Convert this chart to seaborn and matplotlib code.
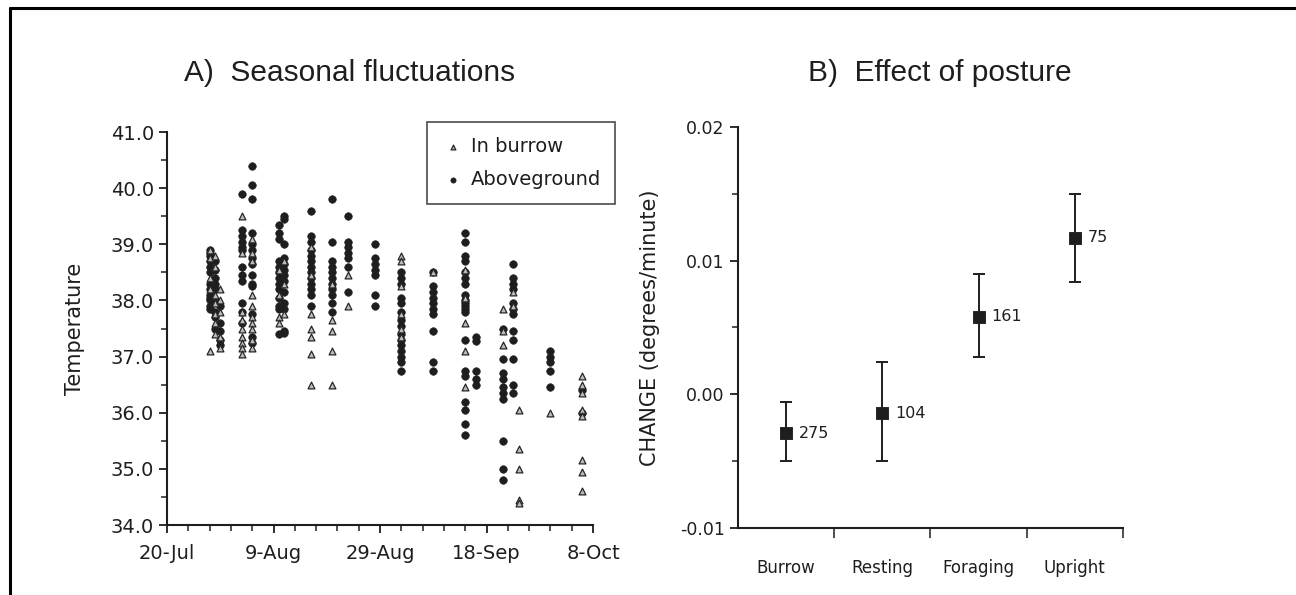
import matplotlib
matplotlib.use("Agg")
import matplotlib.pyplot as plt
import pandas as pd
import seaborn as sns
from matplotlib.lines import Line2D
from matplotlib.ticker import FixedLocator, FuncFormatter, MultipleLocator, NullFormatter
import matplotlib.dates as mdates

# -- Panel A: body temperature by date (one list of readings per sampling date)
above_dates = [
    "1998-07-28", "1998-07-29", "1998-07-30", "1998-08-03", "1998-08-05",
    "1998-08-10", "1998-08-11", "1998-08-16", "1998-08-20", "1998-08-23",
    "1998-08-28", "1998-09-02", "1998-09-08", "1998-09-14", "1998-09-16",
    "1998-09-21", "1998-09-23", "1998-09-30", "1998-10-06",
]
above_temps = [
    [38.9, 38.85, 38.8, 38.7, 38.6, 38.5, 38.3, 38.2, 38.1, 38.05, 38.0, 37.9, 37.85],
    [38.7, 38.55, 38.4, 38.3, 38.2, 38.0, 37.8, 37.7, 37.5],
    [37.9, 37.6, 37.45, 37.3, 37.2],
    [39.9, 39.25, 39.15, 39.05, 38.95, 38.9, 38.6, 38.45, 38.35, 37.95, 37.8, 37.6],
    [40.4, 40.05, 39.8, 39.2, 39.0, 38.9, 38.75, 38.65, 38.45, 38.3, 38.25, 37.75, 37.35, 37.25],
    [39.35, 39.2, 39.1, 38.7, 38.6, 38.5, 38.4, 38.3, 38.2, 38.05, 37.9, 37.85, 37.4],
    [39.5, 39.45, 39.0, 38.75, 38.65, 38.55, 38.45, 38.35, 38.15, 37.95, 37.85, 37.45, 37.42],
    [39.6, 39.15, 39.05, 38.9, 38.8, 38.7, 38.6, 38.5, 38.4, 38.3, 38.2, 38.1, 37.9],
    [39.8, 39.05, 38.7, 38.6, 38.5, 38.4, 38.3, 38.2, 38.1, 37.95, 37.8],
    [39.5, 39.05, 38.95, 38.85, 38.75, 38.6, 38.15],
    [39.0, 38.75, 38.65, 38.55, 38.45, 38.1, 37.9],
    [38.5, 38.4, 38.3, 38.05, 37.95, 37.8, 37.65, 37.55, 37.4, 37.3, 37.2, 37.1, 37.0, 36.9, 36.75],
    [38.5, 38.25, 38.15, 38.05, 37.95, 37.85, 37.75, 37.45, 36.9, 36.75],
    [39.2, 39.05, 38.8, 38.7, 38.5, 38.4, 38.3, 38.1, 38.0, 37.95, 37.9, 37.85, 37.8,
     37.3, 36.75, 36.65, 36.2, 36.05, 35.8, 35.6],
    [37.35, 37.28, 36.75, 36.6, 36.5],
    [37.5, 36.95, 36.7, 36.6, 36.45, 36.35, 36.25, 35.5, 35.0, 34.8],
    [38.65, 38.4, 38.3, 38.2, 37.95, 37.85, 37.75, 37.45, 37.3, 36.95, 36.5, 36.35],
    [37.1, 37.0, 36.9, 36.75, 36.45],
    [36.4, 36.0],
]

burrow_dates = [
    "1998-07-28", "1998-07-29", "1998-07-30", "1998-08-03", "1998-08-05",
    "1998-08-10", "1998-08-11", "1998-08-16", "1998-08-20", "1998-08-23",
    "1998-09-02", "1998-09-08", "1998-09-14", "1998-09-21", "1998-09-23",
    "1998-09-24", "1998-09-30", "1998-10-06",
]
burrow_temps = [
    [38.9, 38.75, 38.4, 38.2, 37.1],
    [38.8, 38.6, 38.1, 37.95, 37.75, 37.6, 37.4],
    [38.2, 38.0, 37.8, 37.35, 37.15],
    [39.5, 38.85, 37.8, 37.65, 37.5, 37.35, 37.25, 37.15, 37.05],
    [39.1, 38.85, 38.7, 38.1, 37.9, 37.7, 37.6, 37.5, 37.3, 37.15],
    [38.55, 38.1, 37.7, 37.6],
    [38.7, 38.3, 37.75],
    [38.95, 38.45, 37.75, 37.5, 37.35, 37.05, 36.5],
    [38.3, 37.65, 37.45, 37.1, 36.5],
    [38.45, 37.9],
    [38.8, 38.7, 38.25, 37.75, 37.5, 37.35],
    [38.5],
    [38.55, 38.05, 37.6, 37.1, 36.45],
    [37.85, 37.45, 37.2],
    [38.15, 37.9],
    [36.05, 35.35, 35.0, 34.45, 34.4],
    [36.0],
    [36.65, 36.5, 36.35, 36.05, 35.95, 35.15, 34.95, 34.6],
]

date_ticks = ["1998-07-20", "1998-08-09", "1998-08-29", "1998-09-18", "1998-10-08"]

# -- Panel B: rate of temperature change by posture
postures = ["Burrow", "Resting", "Foraging", "Upright"]
change_mean = [-0.0029, -0.0014, 0.0058, 0.0117]
change_low = [-0.0050, -0.0050, 0.0028, 0.0084]
change_high = [-0.0006, 0.0024, 0.0090, 0.0150]
sample_n = [275, 104, 161, 75]


def long_frame(dates, temps, where):
    rows = [(pd.Timestamp(d), t, where) for d, ts in zip(dates, temps) for t in ts]
    return pd.DataFrame(rows, columns=["date", "temp", "where"])


above_df = long_frame(above_dates, above_temps, "Aboveground")
burrow_df = long_frame(burrow_dates, burrow_temps, "In burrow")

sns.set_theme(style="ticks")
ink = "#1e1e1e"
plt.rcParams["font.family"] = ["DejaVu Sans"]
plt.rcParams["axes.unicode_minus"] = False
plt.rcParams["axes.edgecolor"] = ink
plt.rcParams["xtick.color"] = ink
plt.rcParams["ytick.color"] = ink
plt.rcParams["text.color"] = ink
plt.rcParams["axes.labelcolor"] = ink

fig = plt.figure(figsize=(12.96, 5.95), dpi=100)
title_font = ["Liberation Sans", "DejaVu Sans"]

# ---------------- Panel A
ax1 = fig.add_axes([0.1289, 0.1176, 0.3287, 0.6605])
sns.scatterplot(data=above_df, x="date", y="temp", marker="o", s=30,
                color=ink, edgecolor=ink, linewidth=0.4, ax=ax1,
                label="Aboveground", zorder=2)
sns.scatterplot(data=burrow_df, x="date", y="temp", marker="^", s=24,
                color="#bdbdbd", edgecolor="#262626", linewidth=0.9, ax=ax1,
                label="In burrow", zorder=3)

ax1.set_xlim(pd.Timestamp(date_ticks[0]), pd.Timestamp(date_ticks[-1]))
ax1.set_ylim(34.0, 41.0)
ax1.xaxis.set_major_locator(FixedLocator(mdates.date2num(pd.to_datetime(date_ticks))))
ax1.xaxis.set_minor_locator(FixedLocator(
    mdates.date2num(pd.date_range(date_ticks[0], date_ticks[-1], freq="4D"))))
ax1.xaxis.set_major_formatter(FuncFormatter(
    lambda v, _: f"{mdates.num2date(v).day}-{mdates.num2date(v):%b}"))
ax1.xaxis.set_minor_formatter(NullFormatter())
ax1.yaxis.set_major_locator(MultipleLocator(1.0))
ax1.yaxis.set_minor_locator(MultipleLocator(0.5))
ax1.yaxis.set_major_formatter(FuncFormatter(lambda v, _: f"{v:.1f}"))
ax1.set_xlabel("")
ax1.set_ylabel("Temperature", fontsize=15, labelpad=18)

handles, labels = ax1.get_legend_handles_labels()
order = [labels.index("In burrow"), labels.index("Aboveground")]
leg = ax1.legend([handles[i] for i in order], [labels[i] for i in order],
                 loc="upper left", bbox_to_anchor=(0.61, 1.025), fontsize=14,
                 frameon=True, fancybox=False, handletextpad=0.3,
                 handlelength=1.2, borderpad=0.75, labelspacing=0.75,
                 markerscale=0.7, borderaxespad=0)
leg.get_frame().set_edgecolor(ink)
leg.get_frame().set_linewidth(1.2)

fig.text(0.1420, 0.878, "A)  Seasonal fluctuations", family=title_font,
         fontsize=21.5, va="center", ha="left")

# ---------------- Panel B
ax2 = fig.add_axes([0.5694, 0.1126, 0.2971, 0.674])
pos = list(range(len(postures)))
err_lo = [m - lo for m, lo in zip(change_mean, change_low)]
err_hi = [hi - m for m, hi in zip(change_mean, change_high)]
ax2.errorbar(pos, change_mean, yerr=[err_lo, err_hi], fmt="none", ecolor=ink,
             elinewidth=1.4, capsize=4, capthick=1.4, zorder=2)
sns.scatterplot(x=pos, y=change_mean, marker="s", s=64, color=ink,
                edgecolor=ink, ax=ax2, zorder=3, legend=False)
for p, m, n in zip(pos, change_mean, sample_n):
    ax2.annotate(str(n), (p, m), xytext=(9, 0), textcoords="offset points",
                 va="center", ha="left", fontsize=11.5)

ax2.set_xlim(-0.5, 3.5)
ax2.set_ylim(-0.01, 0.02)
ax2.xaxis.set_major_locator(FixedLocator(pos))
ax2.set_xticklabels(postures, fontsize=12)
ax2.xaxis.set_minor_locator(FixedLocator([0.5, 1.5, 2.5, 3.5]))
ax2.yaxis.set_major_locator(MultipleLocator(0.01))
ax2.yaxis.set_minor_locator(MultipleLocator(0.005))
ax2.yaxis.set_major_formatter(FuncFormatter(lambda v, _: f"{v:.2f}"))
ax2.set_ylabel("CHANGE (degrees/minute)", fontsize=15, labelpad=14)

fig.text(0.6235, 0.878, "B)  Effect of posture", family=title_font,
         fontsize=21.5, va="center", ha="left")

for ax in (ax1, ax2):
    sns.despine(ax=ax)
    for side in ("left", "bottom"):
        ax.spines[side].set_linewidth(1.5)
    ax.tick_params(which="major", direction="out", length=6, width=1.3)
    ax.tick_params(which="minor", direction="out", length=4, width=1.1)
ax1.tick_params(axis="both", which="major", labelsize=14)
ax1.tick_params(axis="x", which="major", pad=8)
ax2.tick_params(axis="y", which="major", labelsize=12.5)
ax2.tick_params(axis="x", which="major", length=0, pad=22)
ax2.tick_params(axis="x", which="minor", length=7)

# scanned page frame (left and top edges)
fig.add_artist(Line2D([10 / 1296, 10 / 1296], [0, 1 - 8 / 595], color="black", lw=2.2))
fig.add_artist(Line2D([10 / 1296, 1], [1 - 8 / 595, 1 - 8 / 595], color="black", lw=2.2))

fig.savefig("out.png", dpi=100, facecolor="white")
